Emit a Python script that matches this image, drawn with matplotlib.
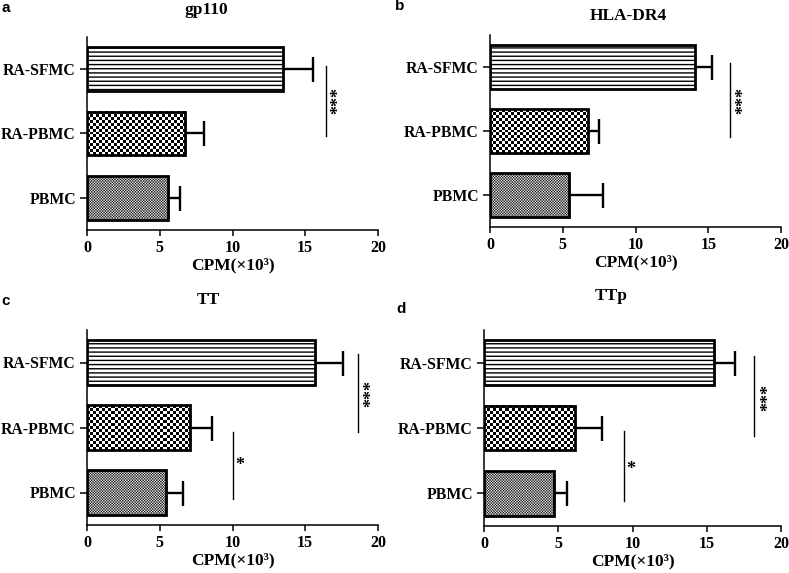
"""
Proliferation (CPM) of PBMC / RA-PBMC / RA-SFMC against four antigens
"""

import numpy as np
import matplotlib.pyplot as plt

plt.rcParams["font.family"] = "Liberation Serif"
plt.rcParams["font.weight"] = "bold"
plt.rcParams["axes.labelweight"] = "bold"
plt.rcParams["hatch.linewidth"] = 1.0

groups = ["PBMC", "RA-PBMC", "RA-SFMC"]
titles = ["gp110", "HLA-DR4", "TT", "TTp"]
letters = ["a", "b", "c", "d"]

gp110_mean = [5.6, 6.75, 13.45]
gp110_err = [0.8, 1.3, 2.1]
hla_mean = [5.45, 6.75, 14.1]
hla_err = [2.35, 0.75, 1.15]
tt_mean = [5.45, 7.1, 15.65]
tt_err = [1.15, 1.5, 1.95]
ttp_mean = [4.7, 6.15, 15.5]
ttp_err = [0.9, 1.8, 1.4]

means = [gp110_mean, hla_mean, tt_mean, ttp_mean]
errs = [gp110_err, hla_err, tt_err, ttp_err]

# significance lines: (x, y from, y to, label, label x, label y)
sig = [
    [(16.4, 0.96, 2.05, "***", 17.3, 1.52)],
    [(16.5, 0.91, 2.06, "***", 17.45, 1.48)],
    [(18.6, 0.93, 2.13, "***", 19.55, 1.53), (10.0, -0.1, 0.93, "*", 10.5, 0.42)],
    [(18.2, 0.88, 2.1, "***", 19.2, 1.47), (9.4, -0.11, 0.96, "*", 9.85, 0.36)],
]

W, H = 789, 573
fig = plt.figure(figsize=(W / 100, H / 100), dpi=100)

# axes boxes in pixels: left, right, top, bottom
boxes = [(87, 378, 37, 230), (490, 781, 35, 227), (87, 378, 330, 525), (484, 781, 330, 526)]
title_pos = [(206, 14), (628, 20), (208, 304), (611, 300)]
letter_pos = [(1, 12), (395, 10), (1, 305), (396, 313)]

bar_h = 0.68
checker_px = [1.35, 3.0]  # square size for PBMC, RA-PBMC fills


def checker(n_rows, n_cols):
    r, c = np.indices((n_rows, n_cols))
    return (r + c) % 2


for i in range(4):
    l, r, t, b = boxes[i]
    ax = fig.add_axes([l / W, 1 - b / H, (r - l) / W, (b - t) / H])
    ax.set_xlim(0, 20)
    ax.set_ylim(-0.5, 2.5)
    ypos = np.arange(len(groups))
    m = np.array(means[i])
    e = np.array(errs[i])

    ax.errorbar(m, ypos, xerr=[np.zeros(3), e], fmt="none", ecolor="black",
                elinewidth=1.7, capsize=9, capthick=1.7, zorder=2)

    for j in range(2):
        p0 = ax.transData.transform((0, ypos[j] - bar_h / 2))
        p1 = ax.transData.transform((m[j], ypos[j] + bar_h / 2))
        n_cols = max(1, int(round((p1[0] - p0[0]) / checker_px[j])))
        n_rows = max(1, int(round((p1[1] - p0[1]) / checker_px[j])))
        ax.imshow(checker(n_rows, n_cols), cmap="gray", aspect="auto",
                  interpolation="nearest" if j == 1 else "antialiased",
                  extent=(0, m[j], ypos[j] - bar_h / 2, ypos[j] + bar_h / 2),
                  zorder=2.5)
    ax.barh(ypos[:2], m[:2], height=bar_h, facecolor="none", edgecolor="black",
            linewidth=2.0, zorder=3)
    ax.barh(ypos[2], m[2], height=bar_h, facecolor="white", edgecolor="black",
            hatch="----", linewidth=2.0, zorder=3)

    for x, y0, y1, lab, lx, ly in sig[i]:
        ax.plot([x, x], [y0, y1], color="black", lw=1.0, clip_on=False)
        if lab == "***":
            ax.text(lx, ly, lab, rotation=90, ha="center", va="center",
                    fontsize=13, clip_on=False)
        else:
            ax.text(lx, ly, lab, ha="center", va="center", fontsize=13)

    ax.set_xlim(0, 20)
    ax.set_ylim(-0.5, 2.5)
    ax.set_xticks([0, 5, 10, 15, 20])
    ax.set_yticks(ypos, groups)
    ax.tick_params(axis="x", direction="out", length=4, width=1.1, pad=3, labelsize=11.5)
    ax.tick_params(axis="y", direction="out", length=5, width=1.1, pad=3, labelsize=11.3)
    ax.spines["top"].set_visible(False)
    ax.spines["right"].set_visible(False)
    ax.spines["left"].set_linewidth(1.1)
    ax.spines["bottom"].set_linewidth(1.1)
    ax.set_xlabel("CPM(×10³)", fontsize=12.5, labelpad=1)

    tx, ty = title_pos[i]
    fig.text(tx / W, 1 - ty / H, titles[i], ha="center", va="baseline", fontsize=12.5)
    lx, ly = letter_pos[i]
    fig.text(lx / W, 1 - ly / H, letters[i], ha="left", va="baseline", fontsize=11,
             family="Liberation Sans", fontweight="bold")

plt.savefig("out.png", dpi=100)
